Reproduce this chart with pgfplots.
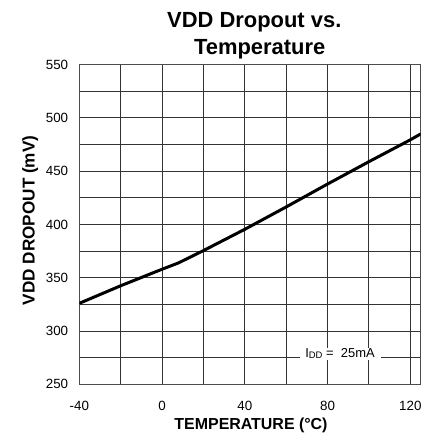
\documentclass[border=0pt]{standalone}
\usepackage{fontspec}
\setmainfont{Liberation Sans}
\usepackage{pgfplots}
\pgfplotsset{compat=1.18}
\begin{document}
\begin{tikzpicture}
\useasboundingbox (0,0) rectangle (440bp,438bp);
\begin{axis}[
  at={(79.3bp,53.7bp)}, anchor=south west,
  scale only axis, width=341.4bp, height=319.6bp,
  xmin=-40, xmax=125, ymin=250, ymax=550,
  xtick={-40,0,40,80,120}, xticklabels={-40,0,40,80,120},
  minor xtick={-20,20,60,100},
  ytick={250,300,350,400,450,500,550},
  yticklabels={250,300,350,400,450,500,550},
  minor ytick={275,325,375,425,475,525},
  grid=both,
  major grid style={black!80, line width=1bp},
  minor grid style={black!80, line width=1bp},
  axis line style={black!70, line width=1bp},
  major tick length=0pt, minor tick length=0pt,
  xticklabel style={font=\fontsize{13.4}{16}\selectfont, anchor=base, yshift=-25.7bp, inner sep=0pt},
  yticklabel style={font=\fontsize{13.4}{16}\selectfont, anchor=east, xshift=-11bp, inner sep=0pt},
  xlabel={TEMPERATURE (°C)},
  xlabel style={font=\bfseries\fontsize{16}{19}\selectfont, at={(axis description cs:0.503,-0.1408)}, anchor=base, inner sep=0pt},
  ylabel={VDD DROPOUT (mV)},
  ylabel style={font=\bfseries\fontsize{17.2}{20}\selectfont, at={(axis description cs:-0.1312,0.513)}, anchor=base, inner sep=0pt},
  clip=true,
]
\addplot[black, line width=3bp] coordinates {
  (-40,326) (-20,342.5) (0,358) (8,364) (20,375.5) (40,395.5)
  (60,416.5) (80,438) (100,459) (120,479.5) (125,485)
};
\node[fill=white, inner sep=0pt, minimum width=81.7bp, minimum height=12.3bp] at (axis cs:86.2,278.6) {};
\node[anchor=base, inner sep=0pt, font=\fontsize{13}{15}\selectfont] at (axis cs:86,275)
  {I\raisebox{-1bp}{\fontsize{9.5}{11}\selectfont DD} =\ \ 25mA};
\end{axis}
\node[anchor=base, inner sep=0pt, font=\bfseries\fontsize{22}{26}\selectfont] at (254.3bp,410.7bp) {VDD Dropout vs.};
\node[anchor=base, inner sep=0pt, font=\bfseries\fontsize{22}{26}\selectfont] at (259.7bp,383.7bp) {Temperature};
\end{tikzpicture}
\end{document}
